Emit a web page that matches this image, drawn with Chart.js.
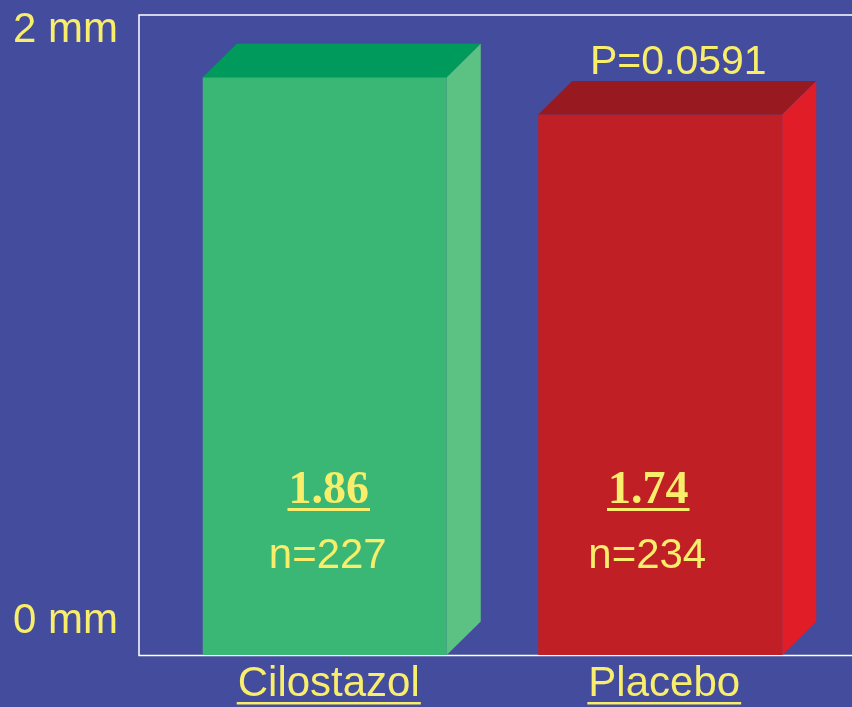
<!DOCTYPE html>
<html>
<head>
<meta charset="utf-8">
<script src="https://cdn.jsdelivr.net/npm/chart.js@4/dist/chart.umd.min.js"></script>
<style>
  html, body { margin: 0; padding: 0; background: #444C9D; }
  canvas { display: block; }
</style>
</head>
<body>
<canvas id="c" width="852" height="707"></canvas>
<script>
// Late loss by treatment group
const categories = ['Cilostazol', 'Placebo'];
const lossValues = [1.86, 1.74];
const sampleSizes = [227, 234];
const yTickValues = [0, 2];
const yTickLabels = ['0 mm', '2 mm'];
const pValueText = 'P=0.0591';

// styling
const BG = '#444C9D';
const YELLOW = '#F8EE6B';
const frontColors = ['#3BB775', '#C11F26'];
const topColors = ['#009B5C', '#981A20'];
const sideColors = ['#5CC283', '#E11E27'];
const DEPTH_X = 34;
const DEPTH_Y = 33.5;
const labelShift = [4, -12];   // horizontal nudge of the in-bar labels
const SANS = '"Liberation Sans", Arial, sans-serif';
const SERIF = '"Liberation Serif", "Times New Roman", serif';

function underlinedText(ctx, text, cx, baseline, font, offset, thick) {
  ctx.font = font;
  ctx.textAlign = 'center';
  ctx.textBaseline = 'alphabetic';
  ctx.fillText(text, cx, baseline);
  const w = ctx.measureText(text).width;
  ctx.fillRect(cx - w / 2 - 1, baseline + offset, w + 2, thick);
}

const scenePlugin = {
  id: 'scene',
  beforeDraw(chart) {
    const { ctx, chartArea: a, width } = chart;
    ctx.save();
    ctx.fillStyle = BG;
    ctx.fillRect(0, 0, width, chart.height);
    // open frame: top, left and bottom edges
    ctx.strokeStyle = '#FFFFFF';
    ctx.lineWidth = 1.5;
    ctx.beginPath();
    ctx.moveTo(width + 5, a.top);
    ctx.lineTo(a.left - 18, a.top);
    ctx.lineTo(a.left - 18, a.bottom + 0.5);
    ctx.lineTo(width + 5, a.bottom + 0.5);
    ctx.stroke();
    ctx.restore();
  },
  afterDatasetsDraw(chart) {
    const { ctx } = chart;
    const meta = chart.getDatasetMeta(0);
    const y = chart.scales.y;
    ctx.save();
    meta.data.forEach((bar, i) => {
      const left = bar.x - bar.width / 2;
      const right = bar.x + bar.width / 2;
      const top = bar.y;
      const base = bar.base;
      // top face
      ctx.fillStyle = topColors[i];
      ctx.beginPath();
      ctx.moveTo(left, top);
      ctx.lineTo(left + DEPTH_X, top - DEPTH_Y);
      ctx.lineTo(right + DEPTH_X, top - DEPTH_Y);
      ctx.lineTo(right, top);
      ctx.closePath();
      ctx.fill();
      // side face
      ctx.fillStyle = sideColors[i];
      ctx.beginPath();
      ctx.moveTo(right, top);
      ctx.lineTo(right + DEPTH_X, top - DEPTH_Y);
      ctx.lineTo(right + DEPTH_X, base - DEPTH_Y);
      ctx.lineTo(right, base);
      ctx.closePath();
      ctx.fill();

      ctx.fillStyle = YELLOW;
      const cx = bar.x + labelShift[i];
      underlinedText(ctx, lossValues[i].toFixed(2), cx, y.getPixelForValue(0) - 152,
        'bold 46px ' + SERIF, 5, 3);
      ctx.font = '42px ' + SANS;
      ctx.textAlign = 'center';
      ctx.fillText('n=' + sampleSizes[i], cx - 1, y.getPixelForValue(0) - 87);

      // category label under the axis
      underlinedText(ctx, categories[i], bar.x + 4, base + 41, '42px ' + SANS, 6, 2.5);

      if (i === meta.data.length - 1) {
        ctx.font = '41px ' + SANS;
        ctx.textAlign = 'center';
        ctx.fillText(pValueText, bar.x + DEPTH_X / 2 + 1, top - DEPTH_Y - 7);
      }
    });

    // axis end labels
    ctx.font = '42px ' + SANS;
    ctx.textAlign = 'left';
    ctx.fillStyle = YELLOW;
    yTickValues.forEach((v, k) => {
      const py = y.getPixelForValue(v);
      const baseline = v === 0 ? py - 22 : py + 8.5;
      ctx.fillText(yTickLabels[k], 13, baseline);
    });
    ctx.restore();
  }
};

new Chart(document.getElementById('c'), {
  type: 'bar',
  data: {
    labels: categories,
    datasets: [{
      data: lossValues,
      backgroundColor: frontColors,
      borderWidth: 0,
      barPercentage: 0.7273,
      categoryPercentage: 1
    }]
  },
  options: {
    responsive: false,
    animation: false,
    devicePixelRatio: 1,
    layout: { padding: { left: 157, right: 24, top: 15, bottom: 52 } },
    scales: {
      x: { display: false, offset: true },
      y: { display: false, min: 0, max: 2.06 }
    },
    plugins: { legend: { display: false }, tooltip: { enabled: false } }
  },
  plugins: [scenePlugin]
});
</script>
</body>
</html>
